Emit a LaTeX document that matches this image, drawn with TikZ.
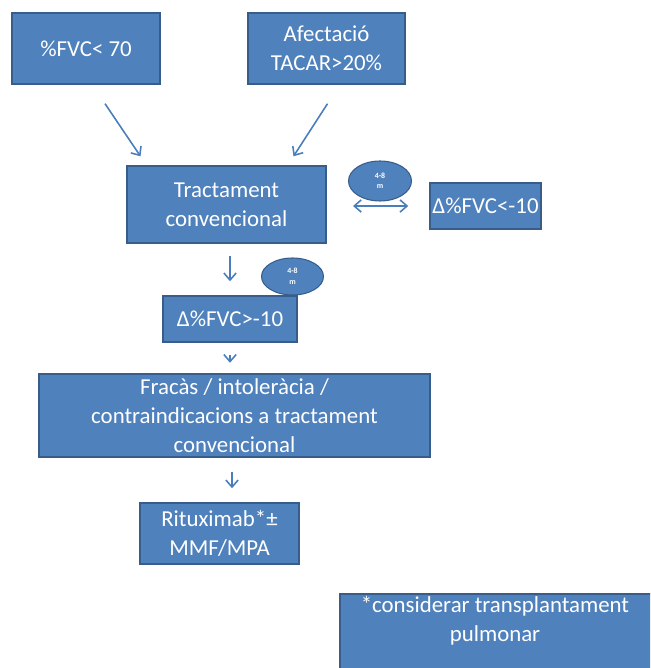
\documentclass[tikz,border=0pt]{standalone}
\usepackage{fontspec}
\setmainfont{Carlito}
\usetikzlibrary{calc,arrows.meta,shapes.geometric}
\definecolor{boxblue}{HTML}{4F81BD}
\definecolor{boxedge}{HTML}{385D8A}
\definecolor{arrblue}{HTML}{4A7EBB}
\tikzset{
  box/.style={draw=boxedge, line width=0.8pt, fill=boxblue, text=white, align=center,
    inner sep=0pt, font=\fontsize{13}{16.5}\selectfont},
  monthtag/.style={ellipse, draw=boxedge, line width=0.6pt, fill=boxblue, text=white,
    align=center, inner sep=0pt, font=\fontsize{4.5}{6}\selectfont\bfseries},
  arr/.style={draw=arrblue, line width=0.9pt, -{Straight Barb[length=4pt,width=7pt]}},
}

\begin{document}
\begin{tikzpicture}[x=0.02cm, y=-0.02cm]
			%%%%% START %%%%%
			\useasboundingbox (0, 0) rectangle (650, 668);
			\clip (0, 0) rectangle (650, 668);
			
			\node[box, minimum width=2.96cm, minimum height=1.42cm] (fvc) at (86, 48.5) {\%FVC< 70};
			\node[box, minimum width=3.14cm, minimum height=1.42cm] (tacar) at (326.5, 48.5) {Afectació\\TACAR>20\%};
			
			\node[box, minimum width=3.98cm, minimum height=1.54cm] (tract) at (226.5, 204.5) {Tractament\\convencional};
			\node[box, minimum width=2.22cm, minimum height=0.92cm] (dneg) at (485.5, 206) {Δ\%FVC<-10};
			\node[box, minimum width=2.68cm, minimum height=0.92cm] (dpos) at (230, 319) {Δ\%FVC>-10};
			
			\node[box, minimum width=7.82cm, minimum height=1.66cm] (fail) at (234.5, 415.5) {Fracàs / intoleràcia /\\contraindicacions a tractament\\convencional};
			\node[box, minimum width=3.18cm, minimum height=1.22cm] (ritux) at (219.5, 533.5) {Rituximab*±\\MMF/MPA};
			
			\draw[box] (340, 594) rectangle (652, 690);
			\node[text=white, align=center, font=\fontsize{13}{16.5}\selectfont] (note) at (495, 621) {*considerar transplantament\\pulmonar};
			
			\node[monthtag, minimum width=1.26cm, minimum height=0.8cm] (tag1) at (380, 181) {4-8\\m};
			\node[monthtag, minimum width=1.24cm, minimum height=0.74cm] (tag2) at (292.5, 276.5) {4-8\\m};
			
			\draw[arr] ($(fvc.south)+(19, 19)$) -- ($(tract.north)+(-86, -9)$);
			\draw[arr] ($(tacar.south)+(1, 19)$) -- ($(tract.north)+(67, -9)$);
			\draw[arr, {Straight Barb[length=4pt,width=7pt]}-{Straight Barb[length=4pt,width=7pt]}, shorten <=15, shorten >=12] (tract.east |- dneg.west) -- (dneg.west);
			\draw[arr, shorten <=7, shorten >=8] (dpos.north |- tract.south) -- (dpos.north);
			\draw[arr, shorten <=7, shorten >=6] (dpos.south) -- (dpos.south |- fail.north);
			\draw[arr, shorten <=8, shorten >=8] (fail.south -| 232, 0) -- (ritux.north -| 232, 0);
			
			%%%%% END %%%%%
		\end{tikzpicture}
\end{document}
